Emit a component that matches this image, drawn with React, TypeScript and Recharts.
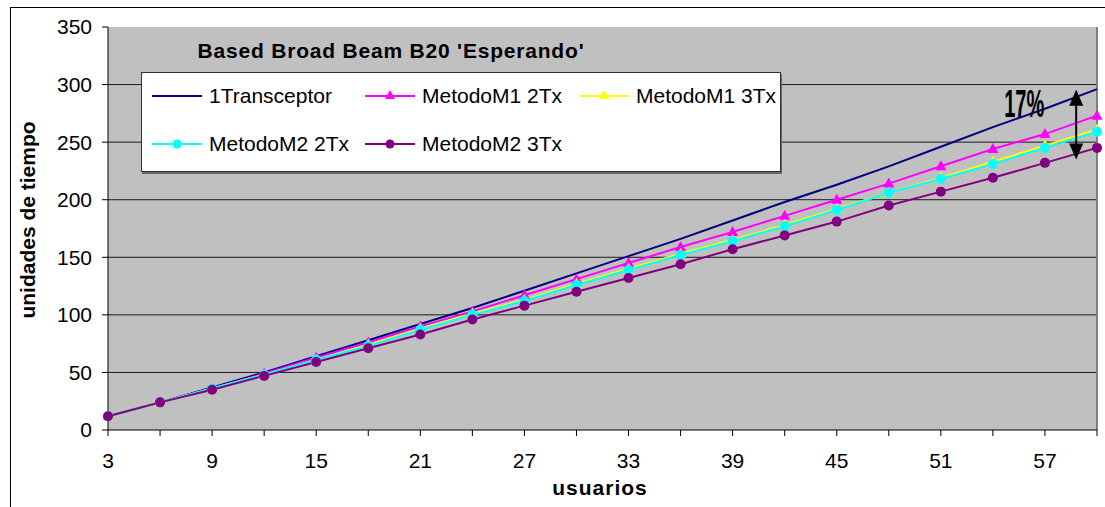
import React from "react";
import {
  LineChart,
  Line,
  XAxis,
  YAxis,
  CartesianGrid,
  Legend,
  ReferenceLine,
} from "recharts";

const FONT = "'Liberation Sans', Arial, sans-serif";

// usuarios (x axis)
const usuarios = [3, 6, 9, 12, 15, 18, 21, 24, 27, 30, 33, 36, 39, 42, 45, 48, 51, 54, 57, 60];
const xTickLabels = [3, 9, 15, 21, 27, 33, 39, 45, 51, 57];
const yTicks = [0, 50, 100, 150, 200, 250, 300, 350];
const gridValues = [50, 100, 150, 200, 250, 300];

// unidades de tiempo
const transceptor1 = [12, 24, 37, 50, 64, 78, 92, 106, 121, 136, 151, 166, 182, 198, 213, 229, 246, 263, 279, 296];
const m1_2tx = [12, 24, 36, 49, 63, 76, 90, 103, 117, 131, 145, 159, 172, 186, 200, 214, 229, 244, 257, 273];
const m1_3tx = [12, 24, 36, 48, 61, 74, 88, 101, 113, 127, 140, 153, 165, 178, 192, 206, 219, 233, 247, 261];
const m2_2tx = [12, 24, 36, 48, 61, 73, 87, 100, 112, 126, 139, 152, 164, 177, 191, 206, 218, 231, 245, 259];
const m2_3tx = [12, 24, 35, 47, 59, 71, 83, 96, 108, 120, 132, 144, 157, 169, 181, 195, 207, 219, 232, 245];

const data = usuarios.map((u, i) => ({
  u,
  t1: transceptor1[i],
  m12: m1_2tx[i],
  m13: m1_3tx[i],
  m22: m2_2tx[i],
  m23: m2_3tx[i],
}));

type Marker = "none" | "triangle" | "circle";
const series: { key: string; name: string; color: string; marker: Marker }[] = [
  { key: "t1", name: "1Transceptor", color: "#000080", marker: "none" },
  { key: "m12", name: "MetodoM1 2Tx", color: "#FF00FF", marker: "triangle" },
  { key: "m13", name: "MetodoM1 3Tx", color: "#FFFF00", marker: "triangle" },
  { key: "m22", name: "MetodoM2 2Tx", color: "#00FFFF", marker: "circle" },
  { key: "m23", name: "MetodoM2 3Tx", color: "#800080", marker: "circle" },
];

const triangleDot = (color: string) => (props: any) => {
  const { cx, cy, index } = props;
  if (cx == null || cy == null) return <g key={index} />;
  return (
    <polygon
      key={index}
      points={`${cx},${cy - 6} ${cx - 5.5},${cy + 4} ${cx + 5.5},${cy + 4}`}
      fill={color}
    />
  );
};

function markerFor(s: (typeof series)[number]) {
  if (s.marker === "triangle") return triangleDot(s.color);
  if (s.marker === "circle") return { r: 5, fill: s.color, stroke: "none" };
  return false;
}

function LegendMarker({ color, marker }: { color: string; marker: Marker }) {
  return (
    <svg width={50} height={14} style={{ display: "block" }}>
      <line x1={0} y1={7} x2={50} y2={7} stroke={color} strokeWidth={2} />
      {marker === "triangle" && <polygon points="25,1 20,10 30,10" fill={color} />}
      {marker === "circle" && <circle cx={25} cy={7} r={4.5} fill={color} />}
    </svg>
  );
}

const legendCols = [10, 223, 437];
const legendRows = [23, 71];

function LegendBox() {
  return (
    <div
      style={{
        position: "relative",
        width: 638,
        height: 98,
        background: "#fff",
        border: "1px solid #333",
        boxShadow: "1px 2px 0 #666",
        fontFamily: FONT,
        fontSize: 21,
        color: "#000",
      }}
    >
      {series.map((s, i) => (
        <div
          key={s.key}
          style={{
            position: "absolute",
            left: legendCols[i % 3],
            top: legendRows[Math.floor(i / 3)] - 12,
            height: 24,
            display: "flex",
            alignItems: "center",
            whiteSpace: "nowrap",
          }}
        >
          <LegendMarker color={s.color} marker={s.marker} />
          <span style={{ marginLeft: 7, lineHeight: "24px" }}>{s.name}</span>
        </div>
      ))}
    </div>
  );
}

function ArrowShape(props: any) {
  const { x1, y1, x2, y2 } = props;
  const x = x1;
  const top = Math.min(y1, y2);
  const bottom = Math.max(y1, y2);
  return (
    <g>
      <line x1={x} y1={top + 10} x2={x} y2={bottom - 10} stroke="#000" strokeWidth={2} />
      <polygon points={`${x},${top} ${x - 7},${top + 16} ${x + 7},${top + 16}`} fill="#000" />
      <polygon points={`${x},${bottom} ${x - 7},${bottom - 16} ${x + 7},${bottom - 16}`} fill="#000" />
      <text
        x={x - 72}
        y={top + 27}
        fontFamily={FONT}
        fontWeight="bold"
        fontSize={38}
        textLength={40}
        lengthAdjust="spacingAndGlyphs"
        fill="#000"
      >
        17%
      </text>
    </g>
  );
}

export default function App() {
  return (
    <div
      style={{
        position: "fixed",
        left: 0,
        top: 0,
        width: 1105,
        height: 507,
        background: "#fff",
        overflow: "hidden",
        fontFamily: FONT,
      }}
    >
      <div
        style={{
          position: "absolute",
          left: 10,
          top: 7,
          width: 1110,
          height: 520,
          border: "1px solid #000",
        }}
      />
      <LineChart
        width={1105}
        height={507}
        data={data}
        margin={{ top: 27, right: 8, bottom: 37, left: 10 }}
      >
        <CartesianGrid
          vertical={false}
          horizontalValues={gridValues}
          stroke="#1a1a1a"
          fill="#C0C0C0"
          fillOpacity={1}
        />
        <XAxis
          dataKey="u"
          type="number"
          domain={[3, 60]}
          ticks={usuarios}
          interval={0}
          height={40}
          tickSize={6}
          tickMargin={17}
          stroke="#000"
          tick={{ fill: "#000", fontSize: 21, fontFamily: FONT }}
          tickFormatter={(v: number) => (xTickLabels.includes(v) ? String(v) : "")}
        />
        <YAxis
          type="number"
          domain={[0, 350]}
          ticks={yTicks}
          interval={0}
          width={98}
          tickSize={6}
          tickMargin={10}
          stroke="#000"
          tick={{ fill: "#000", fontSize: 21, fontFamily: FONT }}
        />
        <ReferenceLine x={60} stroke="#808080" strokeWidth={2} />
        {series.map((s) => (
          <Line
            key={s.key}
            dataKey={s.key}
            name={s.name}
            type="linear"
            stroke={s.color}
            strokeWidth={2}
            dot={markerFor(s) as any}
            activeDot={false}
            isAnimationActive={false}
          />
        ))}
        <ReferenceLine
          segment={[
            { x: 58.8, y: 295.5 },
            { x: 58.8, y: 235 },
          ]}
          shape={ArrowShape}
        />
        <Legend
          layout="horizontal"
          verticalAlign="middle"
          align="center"
          content={() => <LegendBox />}
          wrapperStyle={{ position: "absolute", left: 141, top: 72, width: 640, height: 100 }}
        />
      </LineChart>
      <div
        style={{
          position: "absolute",
          left: 191,
          top: 40,
          width: 400,
          textAlign: "center",
          fontWeight: "bold",
          fontSize: 21,
          lineHeight: "21px",
          letterSpacing: 0.8,
          whiteSpace: "nowrap",
        }}
      >
        Based Broad Beam B20 'Esperando'
      </div>
      <div
        style={{
          position: "absolute",
          left: 28 - 150,
          top: 220 - 12,
          width: 300,
          height: 24,
          lineHeight: "24px",
          textAlign: "center",
          fontWeight: "bold",
          fontSize: 21,
          transform: "rotate(-90deg)",
          whiteSpace: "nowrap",
        }}
      >
        unidades de tiempo
      </div>
      <div
        style={{
          position: "absolute",
          left: 500,
          top: 477,
          width: 200,
          textAlign: "center",
          fontWeight: "bold",
          fontSize: 21,
          lineHeight: "21px",
          letterSpacing: 1,
          whiteSpace: "nowrap",
        }}
      >
        usuarios
      </div>
    </div>
  );
}
